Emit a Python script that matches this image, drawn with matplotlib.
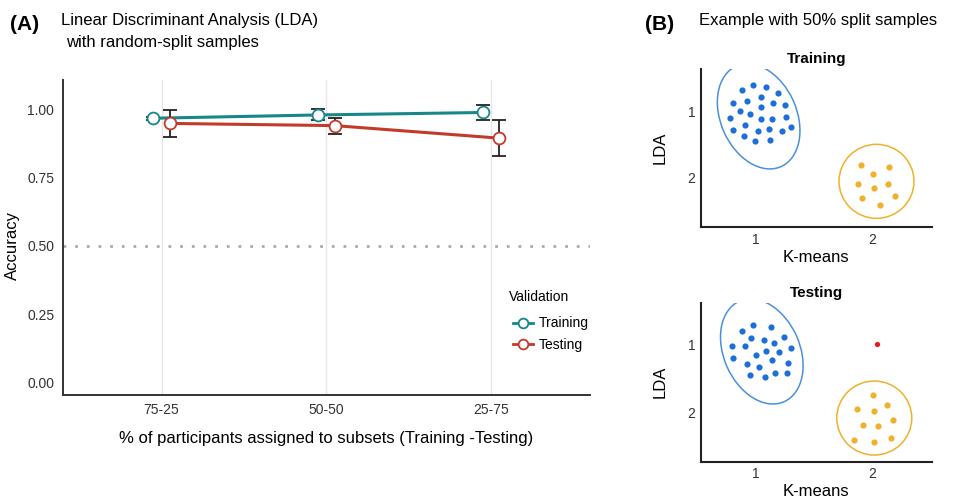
import numpy as np
import matplotlib
matplotlib.use("Agg")
import matplotlib.pyplot as plt
from matplotlib.patches import Ellipse
from matplotlib.transforms import ScaledTranslation

plt.rcParams['font.family'] = ['Liberation Sans', 'DejaVu Sans']

W, H = 965, 501

# panel A data
splits = ['75-25', '50-50', '25-75']
train_acc = [0.967, 0.979, 0.988]
train_err = [0.006, 0.020, 0.028]
test_acc = [0.948, 0.940, 0.894]
test_err = [0.049, 0.029, 0.066]
chance = 0.5

# panel B data (K-means cluster on x, LDA class on y)
tr_blue_x = [0.877, 0.977, 1.086, 1.189, 0.806, 0.926, 1.040, 1.149, 1.249, 0.863, 0.949, 1.040, 0.780,
             0.906, 1.046, 1.134, 1.257, 0.800, 1.017, 1.111, 1.223, 1.297, 0.897, 0.991, 1.123]
tr_blue_y = [0.687, 0.612, 0.647, 0.726, 0.886, 0.846, 0.796, 0.886, 0.915, 1.005, 1.045, 0.945, 1.109,
             1.204, 1.114, 1.114, 1.085, 1.284, 1.299, 1.274, 1.299, 1.234, 1.368, 1.453, 1.438]
tr_yel_x = [1.897, 2.143, 2.006, 1.871, 2.014, 2.134, 2.194, 1.909, 2.060]
tr_yel_y = [1.801, 1.831, 1.935, 2.085, 2.144, 2.085, 2.264, 2.303, 2.398]
tr_centers = [(1.023, 1.080), (2.033, 2.050)]

te_blue_x = [0.877, 0.977, 1.126, 0.954, 1.071, 1.157, 1.243, 0.797, 0.903, 1.086, 1.003, 1.200, 1.300,
             0.806, 0.920, 1.134, 1.271, 1.023, 0.949, 1.080, 1.166, 1.263]
te_blue_y = [0.796, 0.711, 0.736, 0.891, 0.925, 0.965, 0.876, 1.010, 1.010, 1.085, 1.144, 1.109, 1.050,
             1.199, 1.284, 1.219, 1.269, 1.333, 1.453, 1.483, 1.423, 1.413]
te_yel_x = [2.000, 2.120, 1.869, 2.014, 2.174, 1.920, 2.049, 1.843, 2.014, 2.157]
te_yel_y = [1.751, 1.886, 1.960, 1.980, 2.114, 2.184, 2.199, 2.408, 2.443, 2.383]
te_outlier = (2.037, 0.990)
te_centers = [(1.050, 1.097), (2.014, 2.087)]

teal = '#17878a'
red = '#c23b2a'
blue = '#1b6fd6'
blue_edge = '#4a90dc'
yellow = '#f0b12a'


def box(x0, y0, x1, y1):
    return [x0 / W, 1 - y1 / H, (x1 - x0) / W, (y1 - y0) / H]


fig = plt.figure(figsize=(W / 100, H / 100), dpi=100)

# ---------------- panel A ----------------
ax = fig.add_axes(box(62.7, 80, 590, 395))
x = np.arange(1, len(splits) + 1)
dodge = 0.05
xt = x - dodge
xs = x + dodge

ax.axhline(chance, color='#aaaaaa', lw=2, ls=(0, (1, 3.2)), dash_capstyle='butt', zorder=1)
ax.plot(xt, train_acc, color=teal, lw=2.2, zorder=2)
ax.plot(xs, test_acc, color=red, lw=2.2, zorder=2)
ax.errorbar(xt, train_acc, yerr=train_err, fmt='none', ecolor='#222222', elinewidth=1.3, capsize=5, capthick=1.3, zorder=3)
ax.errorbar(xs, test_acc, yerr=test_err, fmt='none', ecolor='#222222', elinewidth=1.3, capsize=5, capthick=1.3, zorder=3)
ax.plot(xt, train_acc, 'o', ms=8.5, mfc='white', mec=teal, mew=1.3, zorder=4)
ax.plot(xs, test_acc, 'o', ms=8.5, mfc='white', mec=red, mew=1.3, zorder=4)

ax.set_xlim(0.4, 3.6)
ax.set_ylim(-0.0465, 1.107)
ax.set_xticks(x)
ax.set_xticklabels(splits)
ax.set_yticks([0, 0.25, 0.5, 0.75, 1.0])
ax.set_yticklabels(['0.00', '0.25', '0.50', '0.75', '1.00'])
ax.tick_params(length=0, labelsize=10, colors='#333333', pad=6)
ax.grid(axis='x', color='#e6e6e6', lw=1)
ax.set_axisbelow(True)
for s in ['top', 'right']:
    ax.spines[s].set_visible(False)
for s in ['left', 'bottom']:
    ax.spines[s].set_color('#333333')
    ax.spines[s].set_linewidth(1.4)
ax.set_xlabel('% of participants assigned to subsets (Training -Testing)', fontsize=12, labelpad=10)
fig.text(12 / W, 1 - 245 / H, 'Accuracy', fontsize=12, rotation=90, ha='center', va='center')

# legend
h1, = ax.plot([], [], '-o', color=teal, lw=2, ms=7, mfc='white', mec=teal, mew=1.3)
h2, = ax.plot([], [], '-o', color=red, lw=2, ms=7, mfc='white', mec=red, mew=1.3)
fig.text(509 / W, 1 - 297 / H, 'Validation', fontsize=10, ha='left', va='center')
leg = ax.legend([h1, h2], ['Training', 'Testing'], loc='upper left',
                bbox_to_anchor=(500 / W, 1 - 304 / H), bbox_transform=fig.transFigure,
                frameon=False, fontsize=10, handlelength=1.5, handletextpad=0.4,
                labelspacing=0.55)

fig.text(10 / W, 1 - 24 / H, '(A)', fontsize=15, fontweight='bold', va='center', ha='left')
fig.text(61 / W, 1 - 21 / H, 'Linear Discriminant Analysis (LDA)', fontsize=12, va='center', ha='left')
fig.text(66 / W, 1 - 43 / H, 'with random-split samples', fontsize=12, va='center', ha='left')

# ---------------- panel B ----------------
fig.text(645 / W, 1 - 24 / H, '(B)', fontsize=15, fontweight='bold', va='center', ha='left')
fig.text(699 / W, 1 - 21 / H, 'Example with 50% split samples', fontsize=12, va='center', ha='left')


def scheme(rect, title, bx, by, yx, yy, centers, outlier=None):
    a = fig.add_axes(rect)
    a.scatter(bx, by, s=20, color=blue, lw=0, zorder=3)
    a.scatter(yx, yy, s=20, color=yellow, lw=0, zorder=3)
    if outlier is not None:
        a.scatter([outlier[0]], [outlier[1]], s=14, color='#e8161c', lw=0, zorder=3)
    (cx1, cy1), (cx2, cy2) = centers
    a.add_patch(Ellipse((0, 0), 1.10, 0.76, angle=114, fill=False, ec=blue_edge, lw=1.1,
                        transform=fig.dpi_scale_trans + ScaledTranslation(cx1, cy1, a.transData)))
    a.add_patch(Ellipse((0, 0), 0.75, 0.74, angle=0, fill=False, ec=yellow, lw=1.1,
                        transform=fig.dpi_scale_trans + ScaledTranslation(cx2, cy2, a.transData)))
    a.set_xlim(0.529, 2.506)
    a.set_ylim(2.736, 0.373)
    a.set_xticks([1, 2])
    a.set_yticks([1, 2])
    a.tick_params(length=0, labelsize=10, colors='#333333', pad=4)
    for s in ['top', 'right']:
        a.spines[s].set_visible(False)
    for s in ['left', 'bottom']:
        a.spines[s].set_color('#222222')
        a.spines[s].set_linewidth(1.5)
    a.set_xlabel('K-means', fontsize=12, labelpad=2)
    a.set_ylabel('LDA', fontsize=12, labelpad=14)
    a.set_title(title, fontsize=11, fontweight='bold', pad=4)
    return a


scheme(box(701, 69, 931.7, 227.3), 'Training', tr_blue_x, tr_blue_y, tr_yel_x, tr_yel_y, tr_centers)
scheme(box(701, 302.7, 931.7, 461.7), 'Testing', te_blue_x, te_blue_y, te_yel_x, te_yel_y, te_centers,
       outlier=te_outlier)

fig.savefig('out.png', dpi=100)
